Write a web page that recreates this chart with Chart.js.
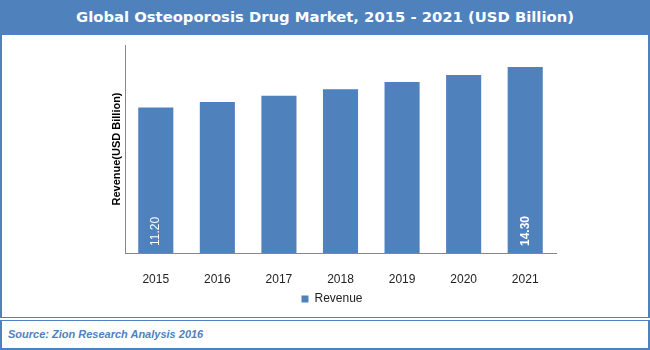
<!DOCTYPE html>
<html>
<head>
<meta charset="utf-8">
<title>Global Osteoporosis Drug Market</title>
<script src="https://cdn.jsdelivr.net/npm/chart.js@4"></script>
<style>
  html, body { margin: 0; padding: 0; background: #fff; }
  #wrap { position: relative; width: 650px; height: 350px; overflow: hidden; }
  .header {
    position: absolute; left: 0; top: 0; width: 650px; height: 35px;
    background: #4f81bd; color: #fff; text-align: center;
    font: bold 14.8px "DejaVu Sans", sans-serif; line-height: 33px;
  }
  .plotbox {
    position: absolute; left: 0; top: 35px; width: 650px; height: 283px;
    box-sizing: border-box; border: 2px solid #4f81bd; border-top: none; border-bottom-width: 1px;
  }
  .footer {
    position: absolute; left: 0; top: 320px; width: 650px; height: 30px;
    box-sizing: border-box; border: 2px solid #4f81bd; border-top-width: 1px;
    color: #4f81bd; font: italic bold 11px "Liberation Sans", Arial, sans-serif;
    padding-left: 6px; line-height: 26px;
  }
  canvas { position: absolute; left: 0; top: 0; }
</style>
</head>
<body>
<div id="wrap">
  <div class="header">Global Osteoporosis Drug Market, 2015 - 2021 (USD Billion)</div>
  <div class="plotbox"></div>
  <div class="footer">Source: Zion Research Analysis 2016</div>
  <canvas id="chart" width="650" height="350"></canvas>
</div>
<script>
// Market size per year, USD billion
const years = ['2015', '2016', '2017', '2018', '2019', '2020', '2021'];
const revenue = [11.20, 11.62, 12.10, 12.60, 13.15, 13.70, 14.30];
// only the first and last bars carry a value label
const labeledIdx = [0, 6];

const BLUE = '#4f81bd';

// writes the value vertically near the foot of the labelled bars
const barValueLabels = {
  id: 'barValueLabels',
  afterDatasetsDraw(chart) {
    const meta = chart.getDatasetMeta(0);
    const ctx = chart.ctx;
    labeledIdx.forEach(i => {
      const bar = meta.data[i];
      ctx.save();
      ctx.translate(bar.x, bar.base - 7);
      ctx.rotate(-Math.PI / 2);
      ctx.fillStyle = '#fff';
      ctx.font = (i === labeledIdx[labeledIdx.length - 1] ? 'bold ' : '') + '12px "Liberation Sans", Arial, sans-serif';
      ctx.textAlign = 'left';
      ctx.textBaseline = 'middle';
      ctx.fillText(revenue[i].toFixed(2), 0, 0);
      ctx.restore();
    });
  }
};

new Chart(document.getElementById('chart').getContext('2d'), {
  type: 'bar',
  data: {
    labels: years,
    datasets: [{
      label: 'Revenue',
      data: revenue,
      backgroundColor: BLUE,
      borderWidth: 0,
      categoryPercentage: 1,
      barPercentage: 0.57
    }]
  },
  options: {
    responsive: false,
    animation: false,
    layout: { padding: { left: 108, right: 94, top: 45, bottom: 35 } },
    plugins: {
      tooltip: { enabled: false },
      legend: {
        position: 'bottom',
        labels: {
          boxWidth: 7,
          boxHeight: 7,
          color: '#222',
          font: { family: '"Liberation Sans", Arial, sans-serif', size: 12 }
        }
      }
    },
    scales: {
      x: {
        grid: { display: false },
        border: { display: true, color: '#868686' },
        ticks: {
          color: '#222',
          padding: 11,
          font: { family: '"Liberation Sans", Arial, sans-serif', size: 12 }
        },
        afterFit: scale => { scale.height = 30; }
      },
      y: {
        min: 0,
        max: 16,
        grid: { display: false },
        border: { display: true, color: '#868686' },
        ticks: { display: false },
        title: {
          display: true,
          text: 'Revenue(USD Billion)',
          color: '#000',
          padding: { top: 2, bottom: 2 },
          font: { family: '"Liberation Sans", Arial, sans-serif', size: 11, weight: 'bold' }
        },
        afterFit: scale => { scale.width = 17; }
      }
    }
  },
  plugins: [barValueLabels]
});
</script>
</body>
</html>
